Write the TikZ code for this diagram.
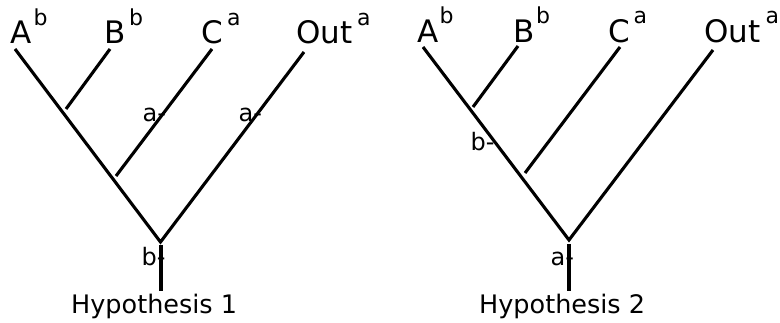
\documentclass[tikz,border=0pt]{standalone}
\usepackage{fontspec}
\setmainfont{DejaVu Sans}
\tikzset{
  branch/.style={line width=3.1pt, line cap=butt},
  taxon/.style={anchor=base west, inner sep=0pt, font=\fontsize{31}{36}\selectfont},
  suplabel/.style={anchor=base west, inner sep=0pt, font=\fontsize{22}{26}\selectfont},
  statelabel/.style={anchor=base west, inner sep=0pt, font=\fontsize{24}{28}\selectfont},
  hyplabel/.style={anchor=base west, inner sep=0pt, font=\fontsize{25.5}{30}\selectfont}
}
\begin{document}
\begin{tikzpicture}[x=1pt,y=-1pt]
\useasboundingbox (0,0) rectangle (780,323);
% ---------- Hypothesis 1 ----------
\node[taxon] (A1) at (10,44) {A};
\node[suplabel] (A1s) at (33.5,26) {b};
\node[taxon] (B1) at (104,44) {B};
\node[suplabel] (B1s) at (129,26) {b};
\node[taxon] (C1) at (201,44) {C};
\node[suplabel] (C1s) at (227,26) {a};
\node[taxon] (O1) at (296,44) {Out};
\node[suplabel] (O1s) at (357,26) {a};
\coordinate (a1top) at (15,49);
\coordinate (b1top) at (110,49);
\coordinate (c1top) at (212,49);
\coordinate (o1top) at (304,52);
\coordinate (b1end) at (66,109);
\coordinate (c1end) at (116,176);
\coordinate (r1) at (160.5,242);
\coordinate (s1top) at (161,245);
\coordinate (s1bot) at (161,291);
\draw[branch] (a1top) -- (r1) -- (o1top);
\draw[branch] (b1top) -- (b1end);
\draw[branch] (c1top) -- (c1end);
\draw[branch] (s1top) -- (s1bot);
\node[statelabel] (m1a) at (142.5,122) {a-};
\node[statelabel] (m1b) at (238.5,122) {a-};
\node[statelabel] (m1c) at (141.5,266) {b-};
\node[hyplabel] (h1) at (71,314) {Hypothesis 1};
% ---------- Hypothesis 2 ----------
\node[taxon] (A2) at (417.5,43) {A};
\node[suplabel] (A2s) at (439.5,24) {b};
\node[taxon] (B2) at (513,43) {B};
\node[suplabel] (B2s) at (536,24) {b};
\node[taxon] (C2) at (608,43) {C};
\node[suplabel] (C2s) at (633.5,24) {a};
\node[taxon] (O2) at (704,43) {Out};
\node[suplabel] (O2s) at (765.5,24) {a};
\coordinate (a2top) at (423,47);
\coordinate (b2top) at (518,46);
\coordinate (c2top) at (620,47);
\coordinate (o2top) at (713,50);
\coordinate (b2end) at (473,107);
\coordinate (c2end) at (525,173);
\coordinate (r2) at (569,240);
\coordinate (s2top) at (569,244);
\coordinate (s2bot) at (569,291);
\draw[branch] (a2top) -- (r2) -- (o2top);
\draw[branch] (b2top) -- (b2end);
\draw[branch] (c2top) -- (c2end);
\draw[branch] (s2top) -- (s2bot);
\node[statelabel] (m2a) at (470.5,151) {b-};
\node[statelabel] (m2b) at (550.5,266) {a-};
\node[hyplabel] (h2) at (479,314) {Hypothesis 2};
\end{tikzpicture}
\end{document}
